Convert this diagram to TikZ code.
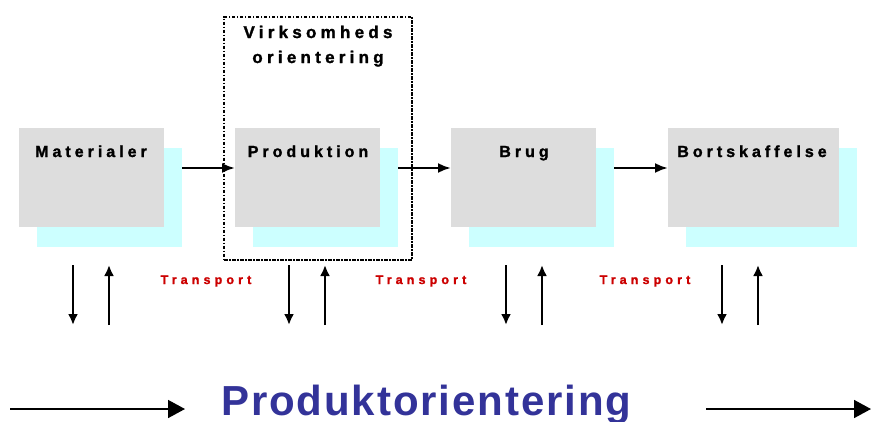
\documentclass[tikz,border=0pt]{standalone}
\usepackage{fontspec}
\setmainfont{Liberation Sans}
\newfontfamily\boxfont[LetterSpace=25,FakeBold=1.5]{Liberation Sans Bold}
\newfontfamily\trfont[LetterSpace=33,FakeBold=1.5]{Liberation Sans Bold}
\newfontfamily\bigfont[LetterSpace=4.5]{Liberation Sans Bold}
\usetikzlibrary{arrows.meta,calc}
\definecolor{boxgray}{HTML}{DDDDDD}
\definecolor{shadowcyan}{HTML}{CCFFFF}
\definecolor{trred}{HTML}{CC0000}
\definecolor{bigblue}{HTML}{333399}
\begin{document}
\begin{tikzpicture}[x=1bp,y=-1bp,
  graybox/.style={fill=boxgray,inner sep=0pt,minimum height=99bp,anchor=north west},
  shadowbox/.style={fill=shadowcyan,inner sep=0pt,minimum height=99bp,anchor=north west},
  boxlabel/.style={anchor=base,inner sep=0pt,font=\boxfont\fontsize{16bp}{18bp}\selectfont},
  trlabel/.style={anchor=base,inner sep=0pt,text=trred,font=\trfont\fontsize{12.5bp}{14bp}\selectfont},
  harr/.style={line width=2.4bp,-{Latex[length=13bp,width=10bp]}},
  varr/.style={line width=2.4bp,-{Latex[length=11bp,width=10bp]}},
  bigarr/.style={line width=1.6bp,-{Triangle[length=17bp,width=18bp]}}
]
\useasboundingbox (0,0) rectangle (871,421);
\fill[white] (0,0) rectangle (871,421);

% frame
\node[draw,line width=2.4bp,dash pattern=on 3.5bp off 1.5bp on 1.5bp off 1.5bp,inner sep=0pt,
  minimum width=188bp,minimum height=243bp,anchor=north west] (frame) at (223,15.5) {};
\node[boxlabel,font=\boxfont\fontsize{17bp}{19bp}\selectfont] (v1) at (318,38) {Virksomheds};
\node[boxlabel,font=\boxfont\fontsize{17bp}{19bp}\selectfont] (v2) at (318,63) {orientering};

% shadows
\node[shadowbox,minimum width=145bp] (ms) at (37,148) {};
\node[shadowbox,minimum width=145bp] (ps) at (253,148) {};
\node[shadowbox,minimum width=145bp] (bs) at (469,148) {};
\node[shadowbox,minimum width=171bp] (ds) at (686,148) {};
% gray boxes
\node[graybox,minimum width=145bp] (m) at (19,128) {};
\node[graybox,minimum width=145bp] (p) at (235,128) {};
\node[graybox,minimum width=145bp] (b) at (451,128) {};
\node[graybox,minimum width=171bp] (d) at (668,128) {};
% labels
\node[boxlabel] (ml) at (91,157) {Materialer};
\node[boxlabel] (pl) at (308,157) {Produktion};
\node[boxlabel] (bl) at (524,157) {Brug};
\node[boxlabel] (dl) at (752,157) {Bortskaffelse};

% horizontal arrows
\draw[harr] ($(ms.north east)+(0,20)$) -- ($(p.north west)+(0,40)$);
\draw[harr] ($(ps.north east)+(0,20)$) -- ($(b.north west)+(0,40)$);
\draw[harr] ($(bs.north east)+(0,20)$) -- ($(d.north west)+(0,40)$);

% vertical arrows
\foreach \n/\xa/\xb in {1/73/109,2/289/325,3/506/542,4/722/758}{
  \coordinate (dt\n) at (\xa,265);
  \coordinate (db\n) at (\xa,325);
  \coordinate (ub\n) at (\xb,325);
  \coordinate (ut\n) at (\xb,265);
  \draw[varr] (dt\n) -- (db\n);
  \draw[varr] (ub\n) -- (ut\n);
}

% transport labels
\node[trlabel] (t1) at (206,284) {Transport};
\node[trlabel] (t2) at (421,284) {Transport};
\node[trlabel] (t3) at (645,284) {Transport};

% bottom
\coordinate (la) at (10,409);
\coordinate (lb) at (185,409);
\coordinate (ra) at (706,409);
\coordinate (rb) at (871,409);
\draw[bigarr] (la) -- (lb);
\draw[bigarr] (ra) -- (rb);
\node[anchor=base west,inner sep=0pt,text=bigblue,font=\bigfont\fontsize{42bp}{46bp}\selectfont] (big) at (221,415) {Produktorientering};
\end{tikzpicture}
\end{document}
